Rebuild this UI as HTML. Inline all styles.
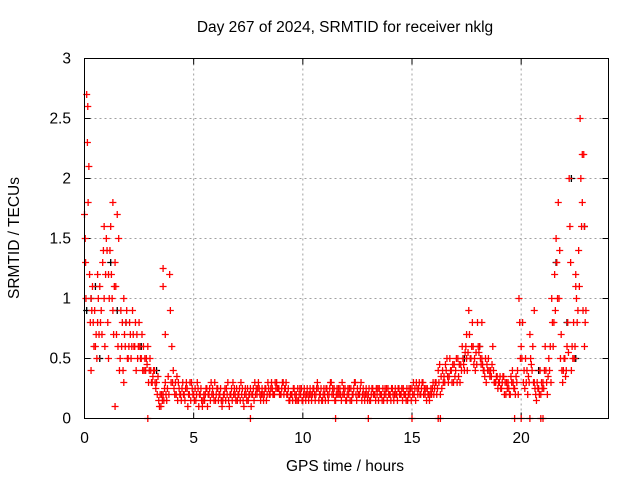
<!DOCTYPE html>
<html><head><meta charset="utf-8"><style>
body{margin:0;background:#fff;}
svg text{font-family:"Liberation Sans",sans-serif;font-size:15.5px;fill:#000;}
</style></head><body>
<svg id="chart" width="640" height="480" viewBox="0 0 640 480" xmlns="http://www.w3.org/2000/svg">
<rect width="640" height="480" fill="#fff"/>
<text x="345" y="32" text-anchor="middle">Day 267 of 2024, SRMTID for receiver nklg</text>
<text x="345" y="471" text-anchor="middle">GPS time / hours</text>
<text transform="translate(19,238) rotate(-90)" text-anchor="middle">SRMTID / TECUs</text>
<g id="grid"></g>
<g id="ticks"></g>
<g id="black"></g>
<g id="red"></g>
<rect x="84.5" y="58.5" width="524" height="360" fill="none" stroke="#000" stroke-width="1"/>
</svg>
<script>
const xTicks=[0,5,10,15,20];
const yTicks=[0,0.5,1,1.5,2,2.5,3];
const yTickLabels=["0","0.5","1","1.5","2","2.5","3"];
const redStep=0.1;
const redValues=[
1.7,2.7,2.1,1.0,0.8,0.6,0.8,1.1,0.7,1.0,
1.5,1.2,1.6,0.9,1.3,1.7,0.4,0.6,1.0,0.8,
0.5,0.7,0.9,0.6,0.7,0.8,0.5,0.6,0.4,0.6,
0.5,0.3,0.4,0.3,0.15,0.1,0.2,0.3,0.25,1.2,
0.6,0.25,0.2,0.3,0.2,0.3,0.15,0.25,0.2,0.3,
0.2,0.15,0.25,0.2,0.1,0.15,0.25,0.2,0.3,0.2,
0.15,0.25,0.2,0.1,0.2,0.25,0.15,0.2,0.3,0.2,
0.15,0.25,0.2,0.1,0.2,0.15,0.25,0.2,0.3,0.2,
0.25,0.2,0.15,0.25,0.3,0.2,0.25,0.2,0.3,0.25,
0.2,0.3,0.25,0.2,0.15,0.2,0.25,0.2,0.15,0.2,
0.15,0.2,0.25,0.2,0.15,0.25,0.2,0.25,0.2,0.15,
0.2,0.25,0.2,0.3,0.2,0.15,0.2,0.25,0.3,0.2,
0.15,0.2,0.25,0.2,0.3,0.25,0.2,0.15,0.2,0.25,
0.2,0.15,0.25,0.2,0.2,0.25,0.2,0.15,0.2,0.25,
0.2,0.25,0.2,0.2,0.25,0.2,0.25,0.2,0.15,0.2,
0.25,0.2,0.3,0.25,0.2,0.3,0.2,0.25,0.15,0.2,
0.2,0.3,0.4,0.2,0.4,0.3,0.5,0.35,0.4,0.3,
0.4,0.5,0.3,0.6,0.4,0.5,0.9,0.5,0.6,0.4,
0.8,0.6,0.5,0.4,0.3,0.5,0.4,0.6,0.3,0.35,
0.3,0.25,0.35,0.2,0.3,0.2,0.4,0.25,0.3,1.0,
0.6,0.3,0.5,0.2,0.7,0.4,0.3,0.15,0.25,0.2,
0.3,0.6,0.2,0.4,1.0,0.8,1.5,1.8,0.5,0.3,
0.5,0.6,2.0,0.4,0.8,1.2,0.9,2.5,1.8,0.6];
const redValuesB=[
1.5,2.3,1.2,0.9,0.6,0.7,1.0,0.8,1.3,0.6,
1.4,1.0,1.2,0.7,1.1,0.6,0.5,0.8,0.7,0.9,
0.6,0.5,0.7,0.8,0.5,0.6,0.7,0.4,0.5,0.3,
0.4,0.35,0.3,0.2,0.1,0.2,0.15,0.2,0.35,0.9,
0.3,0.2,0.35,0.25,0.15,0.2,0.25,0.1,0.3,0.25,
0.15,0.2,0.1,0.25,0.15,0.2,0.1,0.25,0.2,0.15,
0.2,0.15,0.25,0.15,0.25,0.2,0.1,0.25,0.2,0.15,
0.2,0.15,0.25,0.2,0.15,0.2,0.1,0.25,0.2,0.25,
0.2,0.25,0.2,0.15,0.25,0.25,0.2,0.3,0.25,0.2,
0.25,0.2,0.3,0.25,0.2,0.15,0.2,0.15,0.2,0.25,
0.2,0.15,0.2,0.25,0.2,0.2,0.25,0.15,0.25,0.2,
0.15,0.2,0.25,0.2,0.25,0.2,0.25,0.2,0.2,0.25,
0.2,0.25,0.15,0.25,0.2,0.2,0.25,0.2,0.15,0.2,
0.25,0.2,0.2,0.15,0.25,0.2,0.15,0.2,0.25,0.2,
0.15,0.2,0.25,0.15,0.2,0.25,0.2,0.15,0.2,0.25,
0.2,0.25,0.25,0.3,0.25,0.2,0.25,0.2,0.2,0.25,
0.25,0.2,0.3,0.35,0.3,0.45,0.35,0.5,0.3,0.45,
0.5,0.35,0.45,0.5,0.55,0.4,0.7,0.6,0.45,0.55,
0.6,0.5,0.45,0.35,0.45,0.4,0.35,0.4,0.3,0.25,
0.35,0.3,0.2,0.3,0.25,0.35,0.3,0.2,0.4,0.8,
0.5,0.4,0.3,0.35,0.5,0.6,0.25,0.3,0.2,0.3,
0.25,0.4,0.35,0.6,0.8,1.2,1.3,1.0,0.7,0.4,
0.35,0.8,1.6,0.6,0.5,1.0,1.4,2.0,0.9,0.8];
const redValuesC=[
1.0,1.8,0.8,1.1,0.9,0.5,0.7,0.9,1.4,1.2,
0.8,1.4,1.0,1.1,0.7,1.5,0.9,0.4,0.6,0.5,
0.8,0.6,0.6,0.4,0.6,0.5,0.4,0.5,0.45,0.4,
0.3,0.4,0.25,0.35,0.2,0.15,0.25,0.15,0.2,0.3,
0.4,0.3,0.15,0.2,0.25,0.2,0.3,0.2,0.15,0.2,
0.25,0.3,0.2,0.15,0.2,0.25,0.2,0.15,0.25,0.3,
0.25,0.2,0.15,0.2,0.15,0.3,0.2,0.15,0.25,0.25,
0.2,0.3,0.15,0.25,0.25,0.2,0.2,0.15,0.25,0.3,
0.15,0.2,0.25,0.2,0.2,0.3,0.2,0.25,0.25,0.2,
0.3,0.25,0.2,0.15,0.2,0.25,0.15,0.25,0.25,0.15,
0.25,0.2,0.15,0.2,0.25,0.15,0.3,0.2,0.15,0.25,
0.25,0.15,0.3,0.25,0.15,0.25,0.2,0.15,0.25,0.15,
0.25,0.15,0.2,0.3,0.15,0.2,0.3,0.25,0.2,0.15,
0.15,0.25,0.2,0.25,0.15,0.2,0.25,0.25,0.15,0.2,
0.25,0.15,0.2,0.25,0.2,0.15,0.2,0.25,0.25,0.15,
0.3,0.15,0.2,0.2,0.3,0.25,0.15,0.2,0.25,0.3,
0.3,0.25,0.45,0.25,0.35,0.4,0.3,0.4,0.45,0.35,
0.3,0.45,0.4,0.45,0.6,0.55,0.5,0.8,0.5,0.45,
0.55,0.45,0.4,0.5,0.4,0.35,0.45,0.3,0.35,0.3,
0.25,0.35,0.3,0.25,0.2,0.3,0.25,0.35,0.2,0.5,
0.8,0.25,0.4,0.3,0.45,0.3,0.2,0.25,0.4,0.25,
0.4,0.3,0.5,0.3,0.6,0.9,1.0,1.4,0.4,0.5,
0.4,0.55,1.3,0.5,0.6,0.8,1.1,1.6,2.2,0.9];
const redExtraX=[0.05,0.15,0.6,1.3,1.4,1.8,3.6,3.6,3.7,2.9,7.6,11.5,13.0,15.0,16.2,16.3,19.7,20.0,20.4,20.9,21.0,17.5,18.2,20.6,22.5,22.8,22.9,0.3,0.9,1.1];
const redExtraY=[1.3,2.6,1.2,1.8,0.1,0.3,1.25,1.1,0.7,0.0,0.0,0.0,0.0,0.0,0.0,0.0,0.0,0.0,0.0,0.0,0.0,0.7,0.8,0.9,1.1,2.2,1.6,0.4,1.6,0.5];
const blackX=[0.1,0.3,0.7,1.2,1.9,2.6,3.3,17.4,18.1,19.0,20.8,21.6,22.1,22.3,22.5,22.9,0.5,1.5];
const blackY=[0.9,1.0,0.5,1.3,0.8,0.6,0.4,0.5,0.6,0.3,0.4,1.3,0.8,2.0,0.5,1.6,1.1,0.9];
const X0=84.5,X1=608.5,Y0=418.5,Y1=58.5;
const xs=v=>X0+(X1-X0)*v/24;
const ys=v=>Y0-(Y0-Y1)*v/3;
const NS="http://www.w3.org/2000/svg";
const g=document.getElementById('grid'),t=document.getElementById('ticks');
function mk(tag,attrs,parent){const e=document.createElementNS(NS,tag);for(const k in attrs)e.setAttribute(k,attrs[k]);parent.appendChild(e);return e;}
xTicks.forEach(v=>{const x=xs(v);
 if(v>0){const l=mk('line',{x1:x,x2:x,y1:Y1,y2:Y0,stroke:'#a0a0a0','stroke-dasharray':'2,3'},g);
 
 }
 mk('line',{x1:x,x2:x,y1:Y0,y2:Y0-6,stroke:'#000'},t);mk('line',{x1:x,x2:x,y1:Y1,y2:Y1+6,stroke:'#000'},t);
 const tx=mk('text',{x:x,y:443,'text-anchor':'middle'},t);tx.textContent=v;
 
 });
yTicks.forEach((v,i)=>{const y=ys(v);
 if(v>0&&v<3){const l=mk('line',{x1:X0,x2:X1,y1:y,y2:y,stroke:'#a0a0a0','stroke-dasharray':'2,3'},g);
 
 }
 mk('line',{x1:X0,x2:X0+6,y1:y,y2:y,stroke:'#000'},t);mk('line',{x1:X1,x2:X1-6,y1:y,y2:y,stroke:'#000'},t);
 const tx=mk('text',{x:71,y:y+5,'text-anchor':'end'},t);tx.textContent=yTickLabels[i];
 
 });
function plus(x,y,col,par){const p=mk('path',{d:`M${x-3.5},${y}h7M${x},${y-3.5}v7`,stroke:col,'stroke-width':1.3},par);
 
 }
const bk=document.getElementById('black'),rd=document.getElementById('red');
blackX.forEach((v,i)=>plus(xs(v),ys(blackY[i]),'#000',bk));
redValues.forEach((v,i)=>plus(xs(i*redStep),ys(v),'#f00',rd));
redValuesB.forEach((v,i)=>plus(xs(i*redStep+0.033),ys(v),'#f00',rd));
redValuesC.forEach((v,i)=>plus(xs(i*redStep+0.066),ys(v),'#f00',rd));
redExtraX.forEach((v,i)=>plus(xs(v),ys(redExtraY[i]),'#f00',rd));
</script>
</body></html>
